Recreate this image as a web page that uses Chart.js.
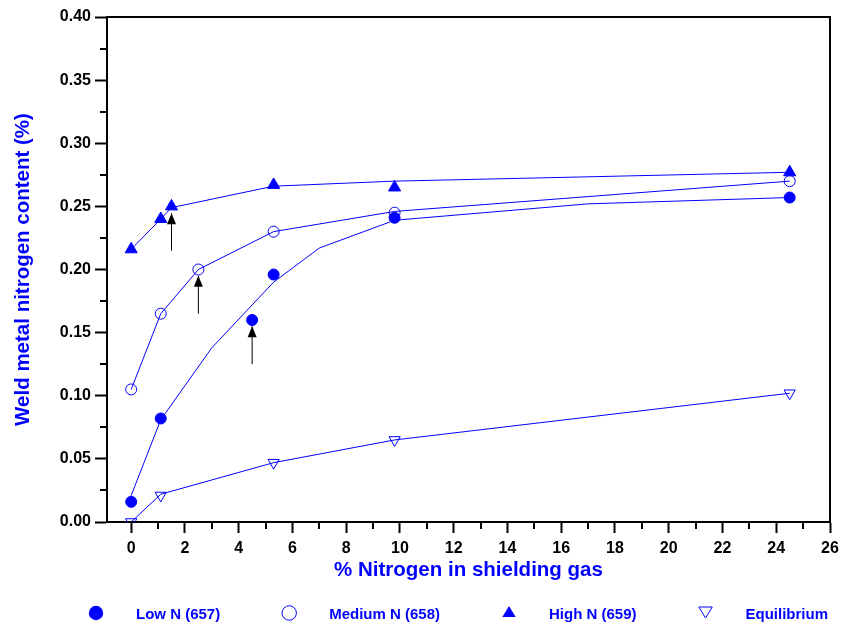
<!DOCTYPE html>
<html><head><meta charset="utf-8">
<script src="https://cdn.jsdelivr.net/npm/chart.js@4/dist/chart.umd.min.js"></script>
<style>html,body{margin:0;padding:0;background:#fff}canvas{display:block}</style>
</head><body>
<canvas id="c" width="841" height="623"></canvas>
<script>
// ---- tick labels ----
const xTickValues = [0, 2, 4, 6, 8, 10, 12, 14, 16, 18, 20, 22, 24, 26];
const yTickValues = [0.00, 0.05, 0.10, 0.15, 0.20, 0.25, 0.30, 0.35, 0.40];
const xMinorTicks = [1, 3, 5, 7, 9, 11, 13, 15, 17, 19, 21, 23, 25];
const yMinorTicks = [0.025, 0.075, 0.125, 0.175, 0.225, 0.275, 0.325, 0.375];

// ---- series (measured points) ----
const seriesNames = ['Low N (657)', 'Medium N (658)', 'High N (659)', 'Equilibrium'];
const lowX  = [0, 1.1, 4.5, 5.3, 9.8, 24.5];
const lowY  = [0.016, 0.082, 0.160, 0.196, 0.241, 0.257];
const medX  = [0, 1.1, 2.5, 5.3, 9.8, 24.5];
const medY  = [0.105, 0.165, 0.200, 0.230, 0.245, 0.270];
const highX = [0, 1.1, 1.5, 5.3, 9.8, 24.5];
const highY = [0.216, 0.240, 0.250, 0.267, 0.265, 0.277];
const eqX   = [0, 1.1, 5.3, 9.8, 24.5];
const eqY   = [0.000, 0.021, 0.047, 0.065, 0.102];

// ---- fitted curves ----
const lowFitX  = [0, 1.1, 3.0, 5.3, 7.0, 9.8, 17.0, 24.5];
const lowFitY  = [0.021, 0.081, 0.138, 0.190, 0.217, 0.239, 0.252, 0.257];
const medFitX  = [0, 1.1, 2.5, 5.3, 9.8, 24.5];
const medFitY  = [0.105, 0.165, 0.200, 0.230, 0.246, 0.270];
const highFitX = [0, 1.1, 1.5, 5.3, 9.8, 24.5];
const highFitY = [0.216, 0.240, 0.249, 0.266, 0.270, 0.277];
const eqFitX   = [0, 1.1, 5.3, 9.8, 24.5];
const eqFitY   = [0.000, 0.022, 0.047, 0.065, 0.102];

// ---- arrows ----
const arrowX    = [1.5, 2.5, 4.5];
const arrowBase = [0.215, 0.165, 0.125];
const arrowTip  = [0.2445, 0.195, 0.155];

const FONT = '"Liberation Sans", Arial, Helvetica, sans-serif';
const BLUE = '#0000ff';

const pts = (xs, ys) => xs.map((x, i) => ({x: x, y: ys[i]}));

const lineDs = (xs, ys) => ({
  data: pts(xs, ys), showLine: true, borderColor: BLUE, borderWidth: 1,
  pointRadius: 0, pointHoverRadius: 0, fill: false, tension: 0, isLine: true
});
const markDs = (label, xs, ys, style, filled, radius, rotation) => ({
  label: label, data: pts(xs, ys), showLine: false,
  pointStyle: style, pointRadius: radius, pointHoverRadius: radius, pointRotation: rotation || 0,
  backgroundColor: filled ? BLUE : 'rgba(0,0,0,0)', borderColor: BLUE, borderWidth: 1,
  pointBackgroundColor: filled ? BLUE : 'rgba(0,0,0,0)', pointBorderColor: BLUE, pointBorderWidth: 1,
  isMarker: true, legendFilled: filled, legendStyle: style, legendRotation: rotation || 0
});

const datasets = [
  markDs(seriesNames[0], lowX, lowY, 'circle', true, 5.5),
  markDs(seriesNames[1], medX, medY, 'circle', false, 5.5),
  markDs(seriesNames[2], highX, highY, 'triangle', true, 7),
  markDs(seriesNames[3], eqX, eqY, 'triangle', false, 6.5, 180),
  lineDs(lowFitX, lowFitY),
  lineDs(medFitX, medFitY),
  lineDs(highFitX, highFitY),
  lineDs(eqFitX, eqFitY)
];
arrowX.forEach((x, i) => {
  datasets.push({
    data: [{x: x, y: arrowBase[i]}, {x: x, y: arrowTip[i]}], showLine: true,
    borderColor: '#000', borderWidth: 1, pointRadius: 0, pointHoverRadius: 0,
    isArrow: true, tension: 0
  });
});

const decorPlugin = {
  id: 'decor',
  afterDatasetsDraw(chart) {
    const ctx = chart.ctx, xs = chart.scales.x, ys = chart.scales.y;
    ctx.save();
    ctx.fillStyle = '#000';
    arrowX.forEach((x, i) => {
      const px = xs.getPixelForValue(x), py = ys.getPixelForValue(arrowTip[i]);
      ctx.beginPath();
      ctx.moveTo(px, py);
      ctx.lineTo(px - 4.5, py + 11);
      ctx.lineTo(px + 4.5, py + 11);
      ctx.closePath();
      ctx.fill();
    });
    ctx.restore();
  },
  afterDraw(chart) {
    const ctx = chart.ctx, xs = chart.scales.x, ys = chart.scales.y, a = chart.chartArea;
    ctx.save();
    ctx.strokeStyle = '#000';
    ctx.lineWidth = 2;
    ctx.beginPath();
    ctx.moveTo(a.left, a.top);
    ctx.lineTo(a.right, a.top);
    ctx.lineTo(a.right, a.bottom);
    ctx.stroke();
    ctx.beginPath();
    xMinorTicks.forEach(v => {
      const px = Math.round(xs.getPixelForValue(v));
      ctx.moveTo(px, a.bottom);
      ctx.lineTo(px, a.bottom + 7);
    });
    yMinorTicks.forEach(v => {
      const py = Math.round(ys.getPixelForValue(v));
      ctx.moveTo(a.left, py);
      ctx.lineTo(a.left - 7, py);
    });
    ctx.stroke();
    // legend
    const ly = 615;
    let cx = 96;
    ctx.font = 'bold 15px ' + FONT;
    ctx.textBaseline = 'middle';
    ctx.textAlign = 'left';
    chart.data.datasets.filter(d => d.isMarker).forEach(d => {
      ctx.beginPath();
      ctx.lineWidth = 1;
      ctx.strokeStyle = BLUE;
      ctx.fillStyle = BLUE;
      if (d.legendStyle === 'circle') {
        ctx.arc(cx, ly - 2, 7.2, 0, Math.PI * 2);
      } else if (d.legendRotation === 180) {
        ctx.moveTo(cx - 6.7, ly - 8);
        ctx.lineTo(cx + 6.7, ly - 8);
        ctx.lineTo(cx, ly + 3);
        ctx.closePath();
      } else {
        ctx.moveTo(cx, ly - 9);
        ctx.lineTo(cx + 6.7, ly + 2);
        ctx.lineTo(cx - 6.7, ly + 2);
        ctx.closePath();
      }
      if (d.legendFilled) ctx.fill(); else ctx.stroke();
      const tx = cx + 40;
      ctx.fillStyle = BLUE;
      ctx.fillText(d.label, tx, ly);
      cx = tx + ctx.measureText(d.label).width + 69;
    });
    ctx.restore();
  }
};

new Chart(document.getElementById('c'), {
  type: 'scatter',
  data: {datasets: datasets},
  options: {
    responsive: false,
    animation: false,
    events: [],
    layout: {padding: {top: 17, right: 11, bottom: 40, left: 0}},
    plugins: {legend: {display: false}, tooltip: {enabled: false}},
    scales: {
      x: {
        type: 'linear', min: -0.9, max: 26,
        afterBuildTicks: s => { s.ticks = xTickValues.map(v => ({value: v})); },
        afterFit: s => { s.height = 61; s.paddingRight = 0; s.paddingLeft = 0; },
        ticks: {color: '#000', font: {family: FONT, size: 16, weight: 'bold'}, padding: 6,
                maxRotation: 0, autoSkip: false, callback: v => String(v)},
        grid: {drawOnChartArea: false, drawTicks: true, tickLength: 11, tickWidth: 2, tickColor: '#000'},
        border: {color: '#000', width: 2},
        title: {display: true, text: '% Nitrogen in shielding gas', color: BLUE,
                font: {family: FONT, size: 20.5, weight: 'bold'}, padding: {top: 0, bottom: 0}}
      },
      y: {
        type: 'linear', min: 0, max: 0.40,
        afterBuildTicks: s => { s.ticks = yTickValues.map(v => ({value: v})); },
        afterFit: s => { s.width = 107; s.paddingTop = 0; s.paddingBottom = 0; },
        ticks: {color: '#000', font: {family: FONT, size: 16, weight: 'bold'}, padding: 4,
                autoSkip: false, callback: v => Number(v).toFixed(2)},
        grid: {drawOnChartArea: false, drawTicks: true, tickLength: 12, tickWidth: 2, tickColor: '#000'},
        border: {color: '#000', width: 2},
        title: {display: true, text: 'Weld metal nitrogen content (%)', color: BLUE,
                font: {family: FONT, size: 20.5, weight: 'bold'}, padding: {top: 11, bottom: 0}}
      }
    }
  },
  plugins: [decorPlugin]
});
</script>
</body></html>
